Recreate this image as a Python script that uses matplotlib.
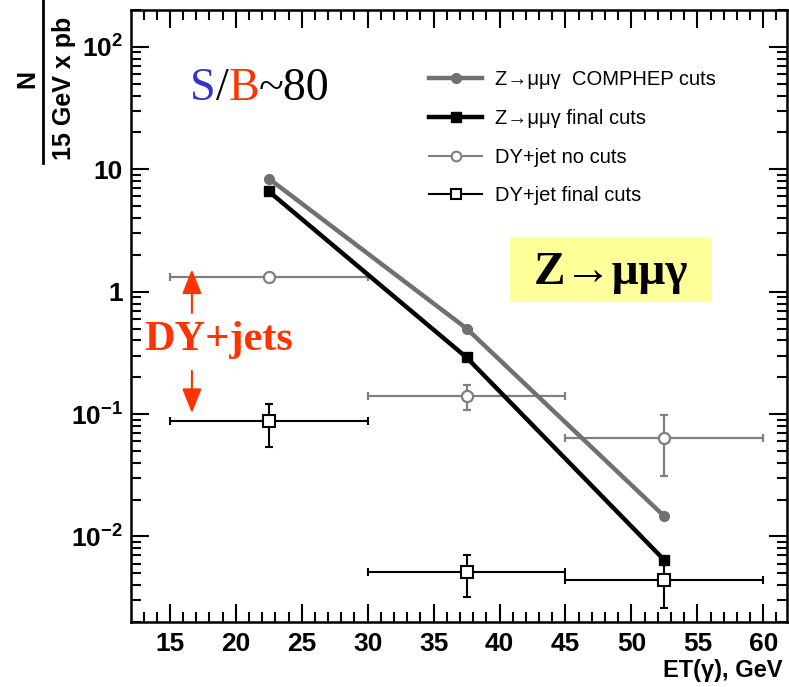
import matplotlib
matplotlib.use("Agg")
import matplotlib.pyplot as plt
import numpy as np
from matplotlib.lines import Line2D
from matplotlib.patches import Rectangle
from matplotlib.ticker import FixedLocator, FixedFormatter, MultipleLocator, LogLocator, NullFormatter

plt.rcParams['font.family'] = ['Liberation Sans', 'DejaVu Sans']
plt.rcParams['mathtext.fontset'] = 'custom'
plt.rcParams['mathtext.rm'] = 'Liberation Sans:bold'
plt.rcParams['mathtext.bf'] = 'Liberation Sans:bold'

# ---- data ----
x_centers = [22.5, 37.5, 52.5]
x_halfwidth = [7.5, 7.5, 7.5]

comphep = [8.4, 0.50, 0.0146]
final_cuts = [6.6, 0.29, 0.0064]

dy_nocuts = [1.33, 0.14, 0.064]
dy_nocuts_lo = [0.0, 0.032, 0.033]
dy_nocuts_hi = [0.0, 0.032, 0.034]

dy_final = [0.088, 0.0051, 0.0044]
dy_final_lo = [0.034, 0.0019, 0.0018]
dy_final_hi = [0.033, 0.0020, 0.0016]

legend_labels = ["Z\u2192\u03bc\u03bc\u03b3  COMPHEP cuts", "Z\u2192\u03bc\u03bc\u03b3 final cuts",
                 "DY+jet no cuts", "DY+jet final cuts"]
ytick_vals = [1e-2, 1e-1, 1, 10, 100]
ytick_labels = [r'$\mathbf{10^{-2}}$', r'$\mathbf{10^{-1}}$', '1', '10', r'$\mathbf{10^{2}}$']
xtick_vals = [15, 20, 25, 30, 35, 40, 45, 50, 55, 60]

fig = plt.figure(figsize=(7.89, 6.87), dpi=100)
ax = fig.add_axes([0.166, 0.0946, 0.8315, 0.8908])
ax.set_yscale('log')
ax.set_xlim(12.05, 61.8)
ax.set_ylim(2e-3, 2e2)

gray = '#707070'
lgray = '#7f7f7f'

ax.plot(x_centers, comphep, color=gray, lw=3.2, marker='o', ms=7, mfc=gray, mec=gray, zorder=4)
ax.plot(x_centers, final_cuts, color='black', lw=3.2, marker='s', ms=7, mfc='black', mec='black', zorder=5)

ax.errorbar(x_centers, dy_nocuts, xerr=x_halfwidth, yerr=[dy_nocuts_lo, dy_nocuts_hi],
            fmt='o', color=lgray, ecolor=lgray, elinewidth=1.6, capsize=3, capthick=1.6,
            ms=8, mfc='white', mec=lgray, mew=1.6, zorder=3)
ax.errorbar(x_centers, dy_final, xerr=x_halfwidth, yerr=[dy_final_lo, dy_final_hi],
            fmt='s', color='black', ecolor='black', elinewidth=1.5, capsize=3, capthick=1.5,
            ms=8, mfc='white', mec='black', mew=1.5, zorder=6)

# ticks
ax.xaxis.set_major_locator(FixedLocator(xtick_vals))
ax.xaxis.set_minor_locator(MultipleLocator(1))
ax.yaxis.set_major_locator(FixedLocator(ytick_vals))
ax.yaxis.set_major_formatter(FixedFormatter(ytick_labels))
ax.yaxis.set_minor_locator(LogLocator(base=10, subs=np.arange(2, 10)))
ax.yaxis.set_minor_formatter(NullFormatter())
ax.tick_params(which='both', direction='in', top=True, right=True, width=1.5)
ax.tick_params(which='major', length=13)
ax.tick_params(which='minor', length=7)
ax.tick_params(axis='x', which='major', pad=7, labelsize=19)
ax.tick_params(axis='y', which='major', pad=6, labelsize=19)
for lab in ax.get_xticklabels() + ax.get_yticklabels():
    lab.set_fontweight('bold')
for s in ax.spines.values():
    s.set_linewidth(1.8)

# legend
handles = [
    Line2D([], [], color=gray, lw=3.2, marker='o', ms=7, mfc=gray, mec=gray),
    Line2D([], [], color='black', lw=3.2, marker='s', ms=7, mfc='black'),
    Line2D([], [], color=lgray, lw=1.5, marker='o', ms=7, mfc='white', mec=lgray, mew=1.5),
    Line2D([], [], color='black', lw=1.5, marker='s', ms=7, mfc='white', mec='black', mew=1.5),
]
leg = ax.legend(handles, legend_labels, loc='upper left', bbox_to_anchor=(0.442, 0.915),
                frameon=False, fontsize=14.5, handlelength=2.65, handletextpad=0.65,
                labelspacing=0.98, borderaxespad=0)

# S/B text
ax.text(0.09, 0.853, 'S', transform=ax.transAxes, fontsize=33, color='#3333cc',
        family='Liberation Serif', ha='left', va='baseline')
t1 = ax.annotate('/', xy=(1, 0), xycoords=ax.texts[-1], fontsize=33, color='black',
                 family='Liberation Serif', ha='left', va='bottom')
t2 = ax.annotate('B', xy=(1, 0), xycoords=t1, fontsize=33, color='#ff3300',
                 family='Liberation Serif', ha='left', va='bottom')
ax.annotate('~80', xy=(1, 0), xycoords=t2, fontsize=33, color='black',
            family='Liberation Serif', ha='left', va='bottom')

# Z box
ax.add_patch(Rectangle((0.578, 0.523), 0.306, 0.104, transform=ax.transAxes,
                       facecolor='#ffff99', edgecolor='none', zorder=1))
ax.text(0.731, 0.571, 'Z\u2192\u03bc\u03bc\u03b3', transform=ax.transAxes, fontsize=34,
        fontweight='bold', family=['Liberation Serif', 'DejaVu Serif'],
        ha='center', va='center', zorder=2)

# DY+jets arrows and text
red = '#ff3300'
ax.annotate('', xy=(16.67, 1.52), xytext=(16.67, 0.67),
            arrowprops=dict(arrowstyle='-|>,head_length=1.5,head_width=0.6', color=red, lw=1.5,
                            shrinkA=0, shrinkB=0))
ax.annotate('', xy=(16.67, 0.102), xytext=(16.67, 0.225),
            arrowprops=dict(arrowstyle='-|>,head_length=1.5,head_width=0.6', color=red, lw=1.5,
                            shrinkA=0, shrinkB=0))
ax.text(18.72, 0.40, 'DY+jets', fontsize=30.5, fontweight='bold', color=red,
        family='Liberation Serif', ha='center', va='center')

# y-label as fraction
fig.text(0.035, 0.885, 'N', rotation=90, fontsize=18, fontweight='bold', ha='center', va='center')
fig.add_artist(Line2D([0.055, 0.055], [0.763, 1.0], color='black', lw=2, transform=fig.transFigure))
fig.text(0.081, 0.871, '15 GeV x pb', rotation=90, fontsize=18, fontweight='bold', ha='center', va='center')

# x-label
fig.text(0.992, 0.014, 'ET(\u03b3), GeV', fontsize=17, fontweight='bold', ha='right', va='baseline')

fig.savefig('out.png', dpi=100)
